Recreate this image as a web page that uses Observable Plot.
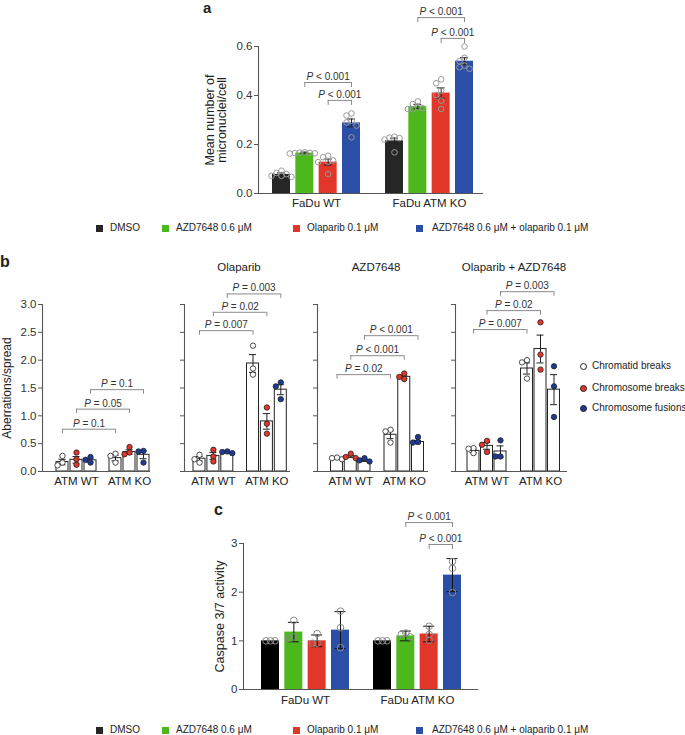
<!DOCTYPE html>
<html><head><meta charset="utf-8">
<script src="https://cdn.jsdelivr.net/npm/d3@7"></script>
<script src="https://cdn.jsdelivr.net/npm/@observablehq/plot@0.6"></script>
<style>
body{margin:0;background:#fff;font-family:"Liberation Sans",Arial,Helvetica,sans-serif;color:#222}
#fig{position:relative;width:685px;height:735px;overflow:hidden;background:#fff}
.abs{position:absolute;white-space:nowrap;line-height:1}
.letter{font-weight:bold;font-size:16px}
.title{font-size:11.5px;transform:translateX(-50%)}
.leg{font-size:10px}
.sw{position:absolute;width:7px;height:7px}
.cir{position:absolute;width:5px;height:5px;border:1px solid #222;border-radius:50%}
</style></head><body><div id="fig"></div><script>
// ---------- Panel a: micronuclei ----------
const aGroups = ["FaDu WT", "FaDu ATM KO"];
const treatments = ["DMSO", "AZD7648 0.6 μM", "Olaparib 0.1 μM", "AZD7648 0.6 μM + olaparib 0.1 μM"];
const treatColors = ["#262626", "#4db81c", "#e2362b", "#2b4ea6"];
const aTicks = [0, 0.2, 0.4, 0.6];
const aMeans = [[0.078, 0.165, 0.128, 0.288], [0.215, 0.355, 0.41, 0.54]];
const aSem = [[0.006, 0.004, 0.012, 0.016], [0.011, 0.009, 0.021, 0.014]];
const aPoints = [
  [[0.093, 0.084, 0.079, 0.072, 0.068, 0.072], [0.168, 0.166, 0.165, 0.163, 0.164, 0.167],
   [0.154, 0.148, 0.135, 0.130, 0.128, 0.079], [0.327, 0.318, 0.297, 0.29, 0.277, 0.229]],
  [[0.232, 0.228, 0.226, 0.22, 0.168], [0.376, 0.365, 0.352, 0.348, 0.345, 0.344],
   [0.466, 0.45, 0.42, 0.402, 0.379, 0.345], [0.6, 0.554, 0.54, 0.522, 0.515, 0.509]]
];
const aBrackets = [
  ["P < 0.001", 0, 1, 0, 3, 0.453], ["P < 0.001", 0, 2, 0, 3, 0.38],
  ["P < 0.001", 1, 1, 1, 3, 0.718], ["P < 0.001", 1, 2, 1, 3, 0.633]
];

// ---------- Panel b: chromosomal aberrations ----------
const bTitles = ["", "Olaparib", "AZD7648", "Olaparib + AZD7648"];
const bGroups = ["ATM WT", "ATM KO"];
const aberrations = ["Chromatid breaks", "Chromosome breaks", "Chromosome fusions"];
const abColors = ["#ffffff", "#e2362b", "#1d3a96"];
const bTicks = [0, 0.5, 1, 1.5, 2, 2.5, 3];
const bMeans = [
  [[0.17, 0.21, 0.2], [0.24, 0.35, 0.3]],
  [[0.23, 0.28, 0.35], [1.94, 0.9, 1.47]],
  [[0.24, 0.27, 0.2], [0.66, 1.7, 0.53]],
  [[0.37, 0.46, 0.36], [1.85, 2.2, 1.47]]
];
const bSem = [
  [[0.05, 0.06, 0.03], [0.05, 0.04, 0.07]],
  [[0.04, 0.06, 0.01], [0.16, 0.14, 0.09]],
  [[0.01, 0.02, 0.02], [0.07, 0.03, 0.03]],
  [[0.03, 0.06, 0.1], [0.1, 0.25, 0.27]]
];
const bPoints = [
  [[[0.28, 0.16, 0.11], [0.34, 0.22, 0.12], [0.26, 0.21, 0.16]], [[0.32, 0.28, 0.16], [0.44, 0.34, 0.31], [0.37, 0.36, 0.16]]],
  [[[0.30, 0.22, 0.16], [0.39, 0.27, 0.18], [0.36, 0.35, 0.33]], [[2.26, 1.85, 1.74], [1.15, 0.86, 0.68], [1.6, 1.53, 1.3]]],
  [[[0.25, 0.24, 0.22], [0.32, 0.26, 0.24], [0.24, 0.2, 0.18]], [[0.75, 0.72, 0.52], [1.76, 1.7, 1.66], [0.62, 0.53, 0.52]]],
  [[[0.42, 0.41, 0.33], [0.55, 0.48, 0.35], [0.56, 0.27, 0.27]], [[2.0, 1.96, 1.67], [2.68, 2.1, 1.83], [1.89, 1.53, 0.98]]]
];
const bBrackets = [
  [["P = 0.1", 0, 0, 1, 0, 0.76], ["P = 0.05", 0, 1, 1, 1, 1.12], ["P = 0.1", 0, 2, 1, 2, 1.47]],
  [["P = 0.007", 0, 0, 1, 0, 2.53], ["P = 0.02", 0, 1, 1, 1, 2.86], ["P = 0.003", 0, 2, 1, 2, 3.19]],
  [["P = 0.02", 0, 0, 1, 0, 1.74], ["P < 0.001", 0, 1, 1, 1, 2.08], ["P < 0.001", 0, 2, 1, 2, 2.44]],
  [["P = 0.007", 0, 0, 1, 0, 2.55], ["P = 0.02", 0, 1, 1, 1, 2.89], ["P = 0.003", 0, 2, 1, 2, 3.23]]
];

// ---------- Panel c: caspase 3/7 ----------
const cGroups = ["FaDu WT", "FaDu ATM KO"];
const cTicks = [0, 1, 2, 3];
const cMeans = [[1.0, 1.18, 1.0, 1.22], [1.0, 1.1, 1.14, 2.35]];
const cSd = [[0, 0.2, 0.12, 0.38], [0, 0.1, 0.16, 0.34]];
const cPoints = [
  [[1, 1, 1], [1.42, 1.05, 1.08], [1.15, 0.95, 0.95], [1.61, 1.27, 0.86]],
  [[1, 1, 1], [1.16, 1.13, 1.08], [1.3, 1.01, 1.13], [2.63, 2.49, 1.99]]
];
const cBrackets = [["P < 0.001", 1, 1, 1, 3, 3.43], ["P < 0.001", 1, 2, 1, 3, 2.98]];

// ---------- helpers ----------
const FONT = '"Liberation Sans", Arial, Helvetica, sans-serif';
const fig = document.getElementById("fig");

function dodge(vals, ppu, sp) {
  const order = vals.map((_, i) => i).sort((a, b) => vals[b] - vals[a]);
  const placed = [], offs = new Array(vals.length).fill(0);
  const cands = [0, -1, 1, -2, 2, -3, 3];
  for (const i of order) {
    for (const c of cands) {
      const ox = c * sp;
      if (placed.every(p => Math.hypot(p.x - ox, (p.v - vals[i]) * ppu) >= sp)) {
        offs[i] = ox; placed.push({x: ox, v: vals[i]}); break;
      }
    }
  }
  return offs;
}

function build(c) {
  const G = c.groupOff / c.step;
  const pos = (g, t) => g * G + t;
  const hw = c.barHalf / c.step, cw = c.capHalf / c.step;
  const ppu = (c.yBot - c.yTop) / c.ymax;
  const bars = [];
  c.means.forEach((row, g) => row.forEach((m, t) => bars.push({g, t, m, e: c.err[g][t]})));
  const errs = bars.filter(d => d.e > 0);
  const caps = errs.flatMap(d => [{g: d.g, t: d.t, y: d.m + d.e}, {g: d.g, t: d.t, y: d.m - d.e}]);
  const pts = [];
  c.points.forEach((row, g) => row.forEach((vals, t) => {
    const offs = dodge(vals, ppu, c.dodgePx);
    vals.forEach((v, i) => pts.push({g, t, v, o: offs[i] / c.step}));
  }));
  const bk = c.brackets.map(([label, g1, t1, g2, t2, y]) => ({label, x1: pos(g1, t1), x2: pos(g2, t2), y}));
  const legs = bk.flatMap(b => [{x: b.x1, y: b.y}, {x: b.x2, y: b.y}]);
  const leg = c.legPx / ppu;
  const xmin = (c.axisL - c.firstC) / c.step, xmax = (c.axisR - c.firstC) / c.step;
  const n = c.means[0].length;
  const marks = [
    Plot.rect(bars, {x1: d => pos(d.g, d.t) - hw, x2: d => pos(d.g, d.t) + hw, y1: () => 0, y2: d => d.m,
      fill: d => c.fill(d.t), stroke: c.barStroke, strokeWidth: 1}),
    Plot.ruleX(errs, {x: d => pos(d.g, d.t), y1: d => d.m - d.e, y2: d => d.m + d.e, stroke: c.errStroke, strokeWidth: 1}),
    Plot.ruleY(caps, {x1: d => pos(d.g, d.t) - cw, x2: d => pos(d.g, d.t) + cw, y: d => d.y, stroke: c.errStroke, strokeWidth: 1}),
    Plot.dot(pts, {x: d => pos(d.g, d.t) + d.o, y: d => d.v, r: c.ptR, fill: d => c.ptFill(d.t),
      stroke: c.ptStroke, strokeWidth: c.ptSW}),
    Plot.ruleY(bk, {x1: d => d.x1, x2: d => d.x2, y: d => d.y, stroke: "#8a8a8a", strokeWidth: 1}),
    Plot.ruleX(legs, {x: d => d.x, y1: d => d.y - leg, y2: d => d.y, stroke: "#8a8a8a", strokeWidth: 1}),
    Plot.text(bk, {x: d => (d.x1 + d.x2) / 2, y: d => d.y, text: d => d.label, lineAnchor: "bottom", dy: -2.5,
      fontSize: 10, fill: "#333"}),
    Plot.ruleX([xmin], {stroke: "#555", strokeWidth: 1.1}),
    Plot.ruleY([0], {stroke: "#555", strokeWidth: 1.1}),
    Plot.axisY({ticks: c.yTicks, tickFormat: c.tickLabels ? c.tickFmt : () => "", tickSize: 4, tickPadding: 2,
      fontSize: 11.5, label: null, stroke: "#555"}),
    Plot.text(c.groups, {x: (d, i) => pos(i, (n - 1) / 2), text: d => d, frameAnchor: "bottom", lineAnchor: "top",
      dy: c.labelPad, fontSize: 11.5, fill: "#222"})
  ];
  if (c.ylabel) marks.push(Plot.text([c.ylabel], {text: d => d, frameAnchor: "left", textAnchor: "middle",
    lineAnchor: "middle", rotate: -90, dx: c.ylabelDx, fontSize: c.ylabelSize, lineHeight: 0.9, fill: "#222"}));
  const svg = Plot.plot({
    width: c.width, height: c.height,
    marginLeft: c.axisL - c.left, marginRight: c.left + c.width - c.axisR,
    marginTop: c.yTop - c.top, marginBottom: c.top + c.height - c.yBot,
    x: {type: "linear", domain: [xmin, xmax], axis: null},
    y: {type: "linear", domain: [0, c.ymax]},
    style: {fontFamily: FONT, fontSize: "11.5px", color: "#333", background: "transparent", overflow: "visible"},
    marks
  });
  svg.style.position = "absolute";
  svg.style.left = c.left + "px";
  svg.style.top = c.top + "px";
  fig.appendChild(svg);
}

// Panel a
build({
  left: 150, top: 0, width: 345, height: 215,
  axisL: 258, axisR: 483, yTop: 46, yBot: 193,
  firstC: 281, step: 23.33, groupOff: 113, barHalf: 9, capHalf: 4,
  ymax: 0.6, yTicks: aTicks, tickLabels: true, tickFmt: d3.format(".1f"),
  groups: aGroups, means: aMeans, err: aSem, fill: t => treatColors[t], barStroke: "none",
  points: aPoints, ptR: 2.8, ptFill: () => "none", ptStroke: "#9a9a9a", ptSW: 1, dodgePx: 5,
  errStroke: "#222", brackets: aBrackets, legPx: 5, labelPad: 5,
  ylabel: "Mean number of\nmicronuclei/cell", ylabelDx: -42, ylabelSize: 12.5
});

// Panel b subpanels
const bLayout = [
  {left: 0, width: 160, axisL: 42, axisR: 150, firstC: 62, step: 14, groupOff: 53},
  {left: 165, width: 135, axisL: 184, axisR: 290, firstC: 199, step: 13.9, groupOff: 53.5},
  {left: 300, width: 135, axisL: 317, axisR: 428, firstC: 336.5, step: 13.75, groupOff: 53.5},
  {left: 437, width: 140, axisL: 455, axisR: 567, firstC: 473, step: 13.5, groupOff: 53.5}
];
bLayout.forEach((L, k) => build({
  ...L, top: 255, height: 240, yTop: 304, yBot: 471,
  barHalf: 6, capHalf: 3.5,
  ymax: 3, yTicks: bTicks, tickLabels: k === 0, tickFmt: d3.format(".1f"),
  groups: bGroups, means: bMeans[k], err: bSem[k], fill: () => "#ffffff", barStroke: "#222",
  points: bPoints[k], ptR: 2.7, ptFill: t => abColors[t], ptStroke: "#222", ptSW: 0.8, dodgePx: 5,
  errStroke: "#222", brackets: bBrackets[k], legPx: 4.5, labelPad: 5,
  ylabel: k === 0 ? "Aberrations/spread" : null, ylabelDx: -35, ylabelSize: 12
}));

// Panel c
build({
  left: 150, top: 490, width: 345, height: 220,
  axisL: 243, axisR: 478, yTop: 543, yBot: 689,
  firstC: 270, step: 23.33, groupOff: 112, barHalf: 9, capHalf: 5.5,
  ymax: 3, yTicks: cTicks, tickLabels: true, tickFmt: d => String(d),
  groups: cGroups, means: cMeans, err: cSd, fill: t => (t === 0 ? "#000000" : treatColors[t]), barStroke: "none",
  points: cPoints, ptR: 3.3, ptFill: () => "none", ptStroke: "#8a8a8a", ptSW: 1, dodgePx: 4.5,
  errStroke: "#111", brackets: cBrackets, legPx: 5, labelPad: 6,
  ylabel: "Caspase 3/7 activity", ylabelDx: -23, ylabelSize: 12.5
});

// ---------- HTML text: panel letters, titles, legends ----------
function addDiv(cls, text, left, top, extra) {
  const d = document.createElement("div");
  d.className = "abs " + cls;
  d.textContent = text;
  d.style.left = left + "px";
  d.style.top = top + "px";
  if (extra) Object.assign(d.style, extra);
  fig.appendChild(d);
  return d;
}
addDiv("letter", "a", 203, 0, {fontSize: "15px"});
addDiv("letter", "b", 0, 253.5);
addDiv("letter", "c", 214, 501.5);
[[1, 239], [2, 376], [3, 514]].forEach(([k, x]) => addDiv("title", bTitles[k], x, 262));

const legSq = [96, 162, 293, 416], legTx = [110, 176, 307, 432];
function treatLegend(yc) {
  treatments.forEach((t, i) => {
    const s = document.createElement("div");
    s.className = "sw";
    s.style.left = legSq[i] + "px"; s.style.top = (yc - 3.5) + "px";
    s.style.background = treatColors[i];
    fig.appendChild(s);
    addDiv("leg", t, legTx[i], yc - 5.2);
  });
}
treatLegend(228);
treatLegend(730);

const abY = [366, 388, 408];
aberrations.forEach((a, i) => {
  const cdiv = document.createElement("div");
  cdiv.className = "cir";
  cdiv.style.left = (583 - 3.5) + "px"; cdiv.style.top = (abY[i] - 3.5) + "px";
  cdiv.style.background = abColors[i];
  fig.appendChild(cdiv);
  addDiv("leg", a, 592, abY[i] - 5.2);
});

// italic P in the P-value labels
const NS = "http://www.w3.org/2000/svg";
for (const t of fig.querySelectorAll("svg text")) {
  const s = t.textContent;
  if (/^P [<=]/.test(s) && t.children.length === 0) {
    t.textContent = "";
    const a = document.createElementNS(NS, "tspan");
    a.setAttribute("font-style", "italic");
    a.textContent = "P";
    const b = document.createElementNS(NS, "tspan");
    b.textContent = "\u00a0" + s.slice(2);
    t.append(a, b);
  }
}
</script></body></html>
